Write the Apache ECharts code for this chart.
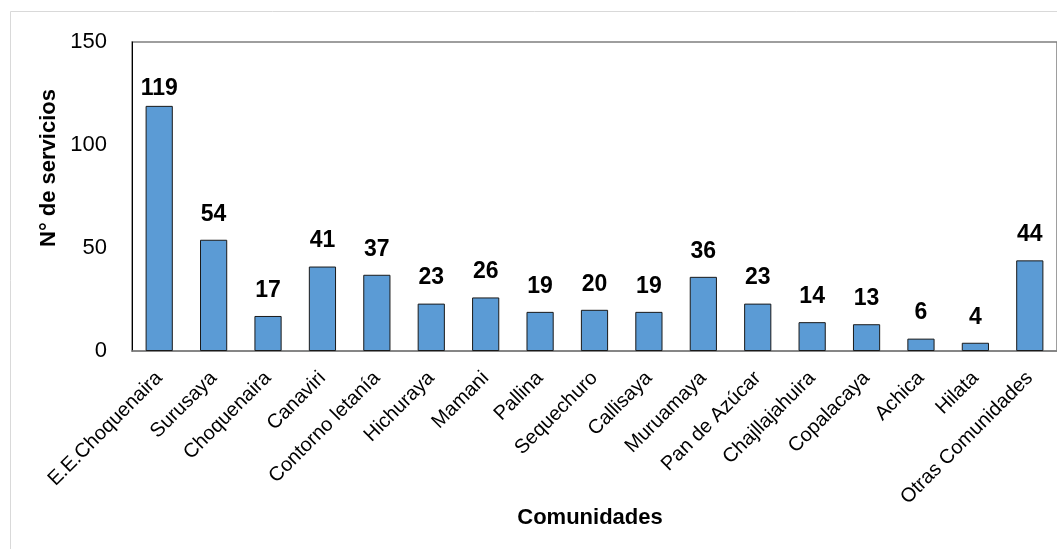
<!DOCTYPE html>
<html>
<head>
<meta charset="utf-8">
<script src="https://cdn.jsdelivr.net/npm/echarts@6/dist/echarts.min.js"></script>
<style>
html,body{margin:0;padding:0;background:#fff;}
#chart{width:1057px;height:549px;}
</style>
</head>
<body>
<div id="chart"></div>
<script>
const categories = ["E.E.Choquenaira","Surusaya","Choquenaira","Canaviri","Contorno letanía","Hichuraya","Mamani","Pallina","Sequechuro","Callisaya","Muruamaya","Pan de Azúcar","Chajllajahuira","Copalacaya","Achica","Hilata","Otras Comunidades"];
const services = [119,54,17,41,37,23,26,19,20,19,36,23,14,13,6,4,44];
const yTicks = [0,50,100,150];
const yTitle = "N° de servicios";
const xTitle = "Comunidades";

const FONT = "'Liberation Sans Narrow','Arial Narrow','Liberation Sans',Arial,sans-serif";
const chart = echarts.init(document.getElementById('chart'), null, {renderer:'canvas'});

const seriesData = services.map(function(v){
  if (v === 119) return {value:v, label:{distance:6}};
  return v;
});

chart.setOption({
  animation:false,
  backgroundColor:'#ffffff',
  grid:{left:132, top:42, right:-1, bottom:198, show:true, borderColor:'#7f7f7f', borderWidth:1.5, containLabel:false},
  xAxis:{
    type:'category',
    data:categories,
    axisLine:{show:true, lineStyle:{color:'#7f7f7f', width:1.5}},
    axisTick:{show:false},
    axisLabel:{rotate:45, interval:0, margin:24, fontFamily:FONT, fontSize:20, color:'#000'},
    splitLine:{show:false}
  },
  yAxis:{
    type:'value',
    min:yTicks[0], max:yTicks[yTicks.length-1], interval:50,
    axisLine:{show:true, lineStyle:{color:'#000', width:1}},
    axisTick:{show:false},
    axisLabel:{margin:25, fontFamily:FONT, fontSize:22, color:'#000'},
    splitLine:{show:false}
  },
  series:[{
    type:'bar',
    data:seriesData,
    barWidth:'50%',
    itemStyle:{color:'#5B9BD5', borderColor:'#1a1a1a', borderWidth:1},
    label:{show:true, position:'top', distance:14, fontFamily:FONT, fontSize:23, fontWeight:'bold', color:'#000'}
  }],
  graphic:[
    {type:'rect', shape:{x:10.5, y:11.5, width:1200, height:700}, style:{fill:'none', stroke:'#d9d9d9', lineWidth:1}, z:-10},
    {type:'text', x:49, y:168, rotation:Math.PI/2, style:{text:yTitle, font:"bold 22px "+FONT, fill:'#000', textAlign:'center', textVerticalAlign:'middle'}},
    {type:'text', x:590, y:518, style:{text:xTitle, font:"bold 22px "+FONT, fill:'#000', textAlign:'center', textVerticalAlign:'middle'}}
  ]
});
</script>
</body>
</html>
